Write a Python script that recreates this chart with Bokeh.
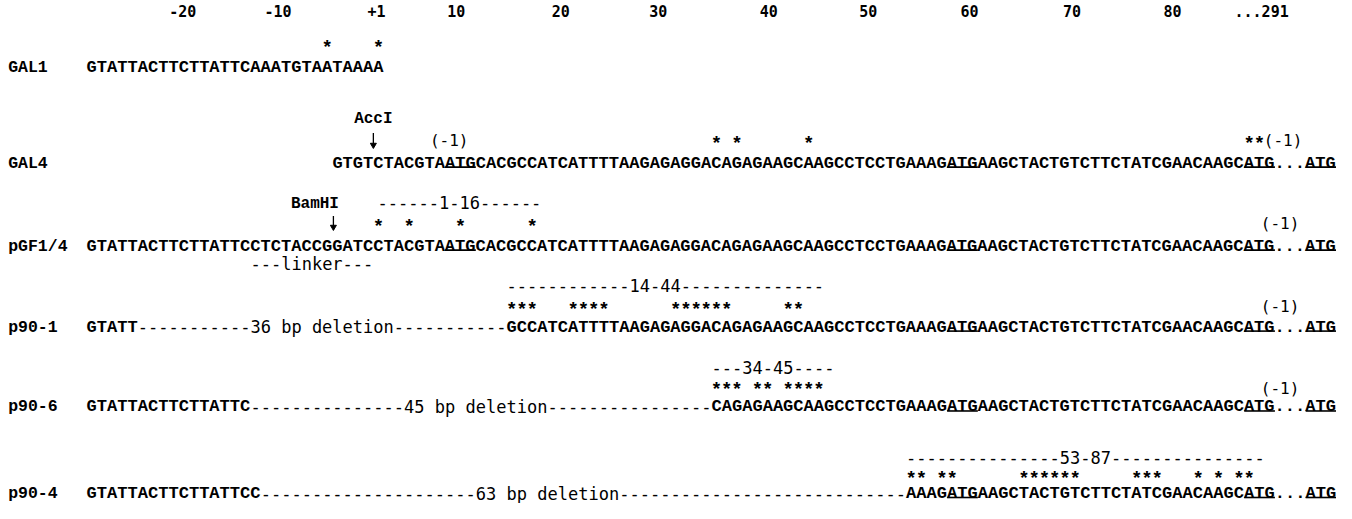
from bokeh.plotting import figure
from bokeh.models import Range1d
from bokeh.core.properties import value
from bokeh.embed import file_html
from bokeh.resources import INLINE

# ---------------- data (positions are columns of the sequence grid) ----------------
row_names = ["GAL1", "GAL4", "pGF1/4", "p90-1", "p90-6", "p90-4"]

tick_labels = ["-20", "-10", "+1", "10", "20", "30", "40", "50", "60", "70", "80", "...291"]
tick_cols = [9.4, 18.7, 28.3, 36.1, 46.3, 55.8, 66.6, 76.3, 86.2, 96.2, 106.0, 114.7]

seq_rows = ["GAL1", "GAL4", "pGF1/4", "p90-1", "p90-1", "p90-6", "p90-6", "p90-4", "p90-4"]
seq_starts = [0, 24, 0, 0, 41, 0, 61, 0, 80]
seq_texts = [
    "GTATTACTTCTTATTCAAATGTAATAAAA",
    "GTGTCTACGTAATGCACGCCATCATTTTAAGAGAGGACAGAGAAGCAAGCCTCCTGAAAGATGAAGCTACTGTCTTCTATCGAACAAGCATG...ATG",
    "GTATTACTTCTTATTCCTCTACCGGATCCTACGTAATGCACGCCATCATTTTAAGAGAGGACAGAGAAGCAAGCCTCCTGAAAGATGAAGCTACTGTCTTCTATCGAACAAGCATG...ATG",
    "GTATT",
    "GCCATCATTTTAAGAGAGGACAGAGAAGCAAGCCTCCTGAAAGATGAAGCTACTGTCTTCTATCGAACAAGCATG...ATG",
    "GTATTACTTCTTATTC",
    "CAGAGAAGCAAGCCTCCTGAAAGATGAAGCTACTGTCTTCTATCGAACAAGCATG...ATG",
    "GTATTACTTCTTATTCC",
    "AAAGATGAAGCTACTGTCTTCTATCGAACAAGCATG...ATG",
]

del_rows = ["p90-1", "p90-6", "p90-4"]
del_starts = [5, 16, 17]
del_texts = [
    "-----------36 bp deletion-----------",
    "---------------45 bp deletion----------------",
    "---------------------63 bp deletion----------------------------",
]

atg_rows = ["GAL4", "GAL4", "GAL4", "GAL4", "pGF1/4", "pGF1/4", "pGF1/4", "pGF1/4",
            "p90-1", "p90-1", "p90-1", "p90-6", "p90-6", "p90-6", "p90-4", "p90-4", "p90-4"]
atg_cols = [35, 84, 113, 119, 35, 84, 113, 119, 84, 113, 119, 84, 113, 119, 84, 113, 119]

gal1_stars = [23, 28]
gal4_stars = [61, 63, 70, 113, 114]
pgf_stars = [28, 31, 36, 43]
p901_stars = [41, 42, 43, 47, 48, 49, 50, 57, 58, 59, 60, 61, 62, 68, 69]
p906_stars = [61, 62, 63, 65, 66, 68, 69, 70, 71]
p904_stars = [80, 81, 83, 84, 91, 92, 93, 94, 95, 96, 102, 103, 104, 108, 110, 112, 113]

range_rows = ["pGF1/4", "p90-1", "p90-6", "p90-4"]
range_starts = [28.4, 41, 61, 80]
range_texts = ["------1-16------", "------------14-44--------------",
               "---34-45----", "---------------53-87---------------"]

linker_rows = ["pGF1/4"]
linker_starts = [16]
linker_texts = ["---linker---"]

minus1_rows = ["GAL4", "GAL4", "pGF1/4", "p90-1", "p90-6"]
minus1_cols = [35.4, 116.8, 116.5, 116.5, 116.5]

site_names = ["AccI", "BamHI"]
site_rows = ["GAL4", "pGF1/4"]
site_cut_cols = [28.0, 24.1]
site_label_cols = [28.0, 22.3]

# ---------------- layout ----------------
P = 10.245                # pixels per sequence column
LEFT = 94                 # page x of column 0
FIG_W, FIG_H = 1336, 503
x0 = -(LEFT - 8) / P
x1 = x0 + FIG_W / P


def ypos(r, d):
    # squeeze only the lowest block so that it stays inside the canvas
    m = r if r <= 400 else 400 + (r - 400) * 0.84
    return m + d


seq_c = {"GAL1": 66, "GAL4": 162, "pGF1/4": 245, "p90-1": 326, "p90-6": 407, "p90-4": 510}
star_c = {"GAL1": 44, "GAL4": 140, "pGF1/4": 223, "p90-1": 306, "p90-6": 386, "p90-4": 489}
minus1_c = {"GAL4": 140, "pGF1/4": 223, "p90-1": 306, "p90-6": 388}
range_c = {"pGF1/4": 202, "p90-1": 285, "p90-6": 367, "p90-4": 468}
site_c = {"GAL4": 117, "pGF1/4": 202}
arrow_c = {"GAL4": (132, 147), "pGF1/4": (215, 229)}
linker_c = {"pGF1/4": 264}
TICK_C = 12
LABEL_COL = -7.65

D_SEQ, D_STAR, D_TICK, D_DASH, D_M1, D_SITE, D_ARROW = 8.6, 11.5, 6.9, 7.5, 7.5, 9.0, 8.5

SEQ_FONT = value("Liberation Mono")
SANS_MONO = value("DejaVu Sans Mono")
SEQ_FS = f"{P / 0.6:.2f}px"
MONO_FS = f"{P / 0.602:.2f}px"

p = figure(width=FIG_W, height=FIG_H, x_range=Range1d(x0, x1), y_range=Range1d(511, 8),
           output_backend="svg", toolbar_location=None, min_border=0)
p.axis.visible = False
p.grid.visible = False
p.outline_line_color = None
p.background_fill_color = "white"
p.border_fill_color = "white"

common = dict(text_baseline="alphabetic", text_color="black")

# tick labels
p.text(x=tick_cols, y=[ypos(TICK_C, D_TICK)] * len(tick_cols), text=tick_labels,
       text_font=SANS_MONO, text_font_style="bold", text_font_size="15px", text_align="center", **common)

# row labels
p.text(x=[LABEL_COL] * len(row_names), y=[ypos(seq_c[r], D_SEQ) for r in row_names], text=row_names,
       text_font=SEQ_FONT, text_font_style="bold", text_font_size="16.5px", text_align="left", **common)

# sequences
p.text(x=seq_starts, y=[ypos(seq_c[r], D_SEQ) for r in seq_rows], text=seq_texts,
       text_font=SEQ_FONT, text_font_style="bold", text_font_size=SEQ_FS, text_align="left", **common)

# deletions
p.text(x=del_starts, y=[ypos(seq_c[r], D_SEQ) for r in del_rows], text=del_texts,
       text_font=SANS_MONO, text_font_size=MONO_FS, text_align="left", **common)

# ATG underlines
uy = [ypos(seq_c[r], D_SEQ) + 4 for r in atg_rows]
p.segment(x0=atg_cols, x1=[c + 3 for c in atg_cols], y0=uy, y1=uy, line_color="black", line_width=1.6)

# stars
star_sets = [("GAL1", gal1_stars), ("GAL4", gal4_stars), ("pGF1/4", pgf_stars),
             ("p90-1", p901_stars), ("p90-6", p906_stars), ("p90-4", p904_stars)]
sx, sy = [], []
for r, cols in star_sets:
    sx += [c + 0.5 for c in cols]
    sy += [ypos(star_c[r], D_STAR)] * len(cols)
p.text(x=sx, y=sy, text=["*"] * len(sx), text_font=SEQ_FONT, text_font_style="bold",
       text_font_size="19px", text_align="center", **common)

# range labels
p.text(x=range_starts, y=[ypos(range_c[r], D_DASH) for r in range_rows], text=range_texts,
       text_font=SANS_MONO, text_font_size=MONO_FS, text_align="left", **common)

# linker label
p.text(x=linker_starts, y=[ypos(linker_c[r], D_DASH) for r in linker_rows], text=linker_texts,
       text_font=SANS_MONO, text_font_size=MONO_FS, text_align="left", **common)

# (-1)
p.text(x=minus1_cols, y=[ypos(minus1_c[r], D_M1) for r in minus1_rows], text=["(-1)"] * len(minus1_cols),
       text_font=SANS_MONO, text_font_size="16px", text_align="center", **common)

# restriction sites
p.text(x=site_label_cols, y=[ypos(site_c[r], D_SITE) for r in site_rows], text=site_names,
       text_font=SEQ_FONT, text_font_style="bold", text_font_size="16px", text_align="center", **common)
a_top = [ypos(arrow_c[r][0], D_ARROW) for r in site_rows]
a_bot = [ypos(arrow_c[r][1], D_ARROW) for r in site_rows]
p.segment(x0=site_cut_cols, x1=site_cut_cols, y0=a_top, y1=[b - 4 for b in a_bot],
          line_color="black", line_width=1.3)
p.scatter(x=site_cut_cols, y=[b - 3 for b in a_bot], marker="inverted_triangle",
          size=6, fill_color="black", line_color="black")

open("out.html", "w").write(file_html(p, INLINE))
